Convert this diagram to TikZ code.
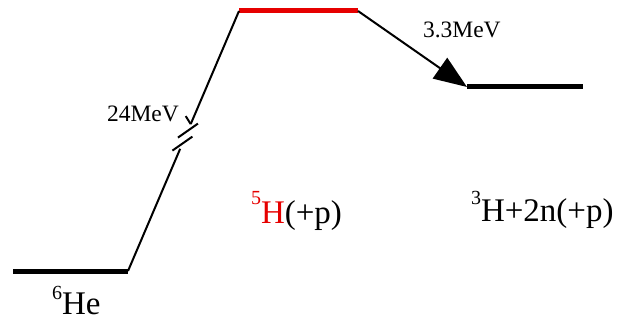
\documentclass[tikz,border=0pt]{standalone}
\usepackage{fontspec}
\setmainfont{Liberation Serif}
\usetikzlibrary{arrows.meta,calc}
\definecolor{lvlred}{RGB}{230,0,0}
\tikzset{
  level/.style={line width=5pt,line cap=butt},
  conn/.style={line width=2pt},
  lbl/.style={anchor=base west,inner sep=0pt,outer sep=0pt},
  small/.style={font=\fontsize{23.5}{23.5}\selectfont},
  big/.style={font=\fontsize{33}{33}\selectfont},
}
\newcommand{\supr}[2]{{\fontsize{20}{20}\selectfont\raisebox{#1pt}{#2}}}
\begin{document}
\begin{tikzpicture}[x=1pt,y=-1pt]
\useasboundingbox (0,0) rectangle (631,320);
% levels
\coordinate (heL) at (13,271);
\coordinate (heR) at (128,271);
\coordinate (h5L) at (239,11);
\coordinate (h5R) at (358,11);
\coordinate (h3L) at (467,87);
\coordinate (h3R) at (583,87);
\draw[level] (heL) -- (heR);
\draw[level,draw=lvlred] (h5L) -- (h5R);
\draw[level] (h3L) -- (h3R);
% broken connector
\coordinate (brLow) at ($(heR)!0.47!(h5L)$);
\coordinate (brUp) at ($(heR)!0.565!(h5L)$);
\coordinate (mkA) at ($(heR)!0.49!(h5L)$);
\coordinate (mkB) at ($(heR)!0.54!(h5L)$);
\draw[conn] (heR) -- (brLow);
\draw[conn] (brUp) -- (h5L);
\draw[conn] ($(mkA)+(-10,7)$) -- ($(mkA)+(10,-7)$);
\draw[conn] ($(mkB)+(-10,7)$) -- ($(mkB)+(10,-7)$);
\draw[conn] (brUp) -- ++(-5,-8);
% arrow
\draw[conn,-{Triangle[length=33pt,width=25pt]}] (h5R) -- (h3L);
% labels
\node[lbl,small] (e24) at (107,122) {24MeV};
\node[lbl,small] (e33) at (423,38) {3.3MeV};
\node[lbl,big] (he6) at (52,314) {\supr{15}{6}He};
\node[lbl,big] (h5) at (251,223) {\textcolor{lvlred}{\supr{18}{5}H}(+p)};
\node[lbl,big] (h3) at (471,222) {\supr{17}{3}H+2n(+p)};
\end{tikzpicture}
\end{document}
